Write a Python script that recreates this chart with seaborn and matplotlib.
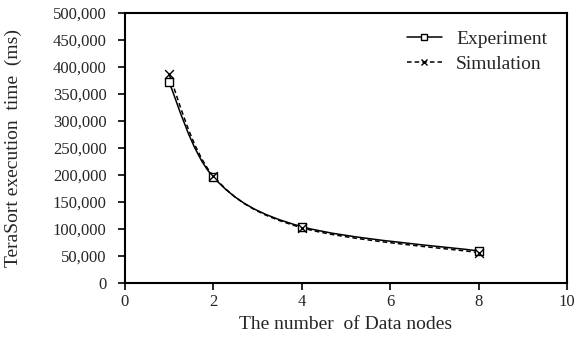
import numpy as np
import pandas as pd
import matplotlib
matplotlib.use("Agg")
import matplotlib.pyplot as plt
import seaborn as sns
from matplotlib.path import Path
from matplotlib.patches import PathPatch
from matplotlib.lines import Line2D
from matplotlib.ticker import FuncFormatter

nodes = [1, 2, 4, 8]
experiment = [371000, 196000, 104000, 59000]
simulation = [386000, 198000, 102000, 56000]


def smooth_path(xs, ys):
    # Excel-style smoothed line: Catmull-Rom segments as cubic Bezier
    pts = np.column_stack([xs, ys]).astype(float)
    ext = np.vstack([pts[0], pts, pts[-1]])
    verts = [pts[0]]
    codes = [Path.MOVETO]
    for i in range(1, len(ext) - 2):
        p0, p1, p2, p3 = ext[i - 1], ext[i], ext[i + 1], ext[i + 2]
        verts += [p1 + (p2 - p0) / 6, p2 - (p3 - p1) / 6, p2]
        codes += [Path.CURVE4] * 3
    return Path(verts, codes)


sns.set_theme(style="ticks")
plt.rcParams["font.family"] = ["Liberation Serif", "DejaVu Serif"]

fig = plt.figure(figsize=(5.75, 3.42), dpi=100)
ax = fig.add_axes([0.217, 0.173, 0.769, 0.79])

df = pd.DataFrame({
    "nodes": nodes * 2,
    "time": experiment + simulation,
    "series": ["Experiment"] * 4 + ["Simulation"] * 4,
})

ax.add_patch(PathPatch(smooth_path(nodes, experiment), fill=False,
                       edgecolor="black", lw=1.1, linestyle="-"))
ax.add_patch(PathPatch(smooth_path(nodes, simulation), fill=False,
                       edgecolor="black", lw=1.1, linestyle=(0, (3, 2))))

sns.scatterplot(data=df[df.series == "Experiment"], x="nodes", y="time",
                marker="s", s=40, facecolor="white", edgecolor="black",
                linewidth=1.0, ax=ax, zorder=3, legend=False)
sns.scatterplot(data=df[df.series == "Simulation"], x="nodes", y="time",
                marker="x", s=40, color="black", linewidth=1.0, ax=ax,
                zorder=4, legend=False)

ax.set_xlim(0, 10)
ax.set_ylim(0, 500000)
ax.set_xticks(range(0, 11, 2))
ax.set_yticks(range(0, 500001, 50000))
ax.yaxis.set_major_formatter(FuncFormatter(lambda v, p: f"{int(v):,}"))

ax.set_xlabel("The number  of Data nodes", fontsize=14, labelpad=4)
ax.set_ylabel("TeraSort execution  time  (ms)", fontsize=14, labelpad=22)
ax.tick_params(axis="both", labelsize=12, length=5, width=1.2,
               direction="out", color="black")
ax.tick_params(axis="y", pad=8)
ax.tick_params(axis="x", pad=3)
for sp in ax.spines.values():
    sp.set_linewidth(1.5)
    sp.set_color("black")

handles = [
    Line2D([], [], color="black", lw=1.1, marker="s", markersize=5,
           markerfacecolor="white", markeredgecolor="black"),
    Line2D([], [], color="black", lw=1.1, linestyle=(0, (3, 2)),
           marker="x", markersize=5),
]
ax.legend(handles, ["Experiment", "Simulation"], loc="upper right",
          frameon=False, fontsize=14, handlelength=1.8, handletextpad=0.75,
          labelspacing=0.4, bbox_to_anchor=(0.995, 1.0))

fig.savefig("out.png", dpi=100)
